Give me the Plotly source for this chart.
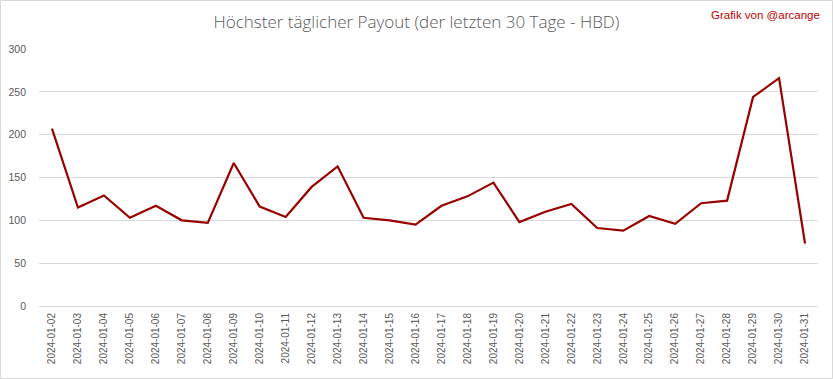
import plotly.graph_objects as go

dates = ["2024-01-%02d" % d for d in range(2, 32)]
payout = [207, 115, 129, 103, 117, 100, 97, 167, 116, 104,
          139, 163, 103, 100, 95, 117, 128, 144, 98, 110,
          119, 91, 88, 105, 96, 120, 123, 244, 266, 73]
y_ticks = [0, 50, 100, 150, 200, 250, 300]

title_text = "Höchster täglicher Payout (der letzten 30 Tage - HBD)"
credit_text = "Grafik von @arcange"

W, H = 833, 379
ML, MR, MT, MB = 39, 15, 49, 73
PW, PH = W - ML - MR, H - MT - MB

fig = go.Figure()
fig.add_trace(go.Scatter(
    x=dates, y=payout, mode="lines",
    line=dict(color="#990000", width=2.2),
    hoverinfo="x+y",
))

fig.update_layout(
    width=W, height=H,
    paper_bgcolor="white", plot_bgcolor="white",
    margin=dict(l=ML, r=MR, t=MT, b=MB, autoexpand=False),
    showlegend=False,
    title=dict(text=title_text, x=0.5, xanchor="center", y=1 - 22 / H, yanchor="middle",
               font=dict(family="Open Sans", size=17, color="#595959", weight=300)),
    annotations=[dict(text=credit_text, xref="paper", yref="paper",
                      x=(822 - ML) / PW, y=1 + (MT - 15) / PH, xanchor="right", yanchor="middle",
                      showarrow=False,
                      font=dict(family="Liberation Sans", size=11.5, color="#C00000"))],
    shapes=[dict(type="rect", xref="paper", yref="paper",
                 x0=-(ML - 0.5) / PW, x1=(W - 0.5 - ML) / PW,
                 y0=-(MB - 0.5) / PH, y1=(H - MB - 0.5) / PH,
                 line=dict(color="#d9d9d9", width=1))],
    font=dict(family="Liberation Sans", size=10, color="#595959"),
)
fig.update_xaxes(type="category", range=[-0.5, len(dates) - 0.5], tickangle=-90,
                 showgrid=False, showline=False, ticks="", automargin=False,
                 ticklabelstandoff=4,
                 tickfont=dict(size=10, color="#595959"))
fig.update_yaxes(range=[0, 300], tickvals=y_ticks, showgrid=True, gridcolor="#d9d9d9",
                 gridwidth=1, zeroline=True, zerolinecolor="#d9d9d9", zerolinewidth=1,
                 ticks="", ticklabelstandoff=12, automargin=False,
                 tickfont=dict(size=10.5, color="#595959"))

fig.write_html("out.html", config={"displayModeBar": False},
               post_script="document.body.style.margin='0';document.body.style.overflow='hidden';")
